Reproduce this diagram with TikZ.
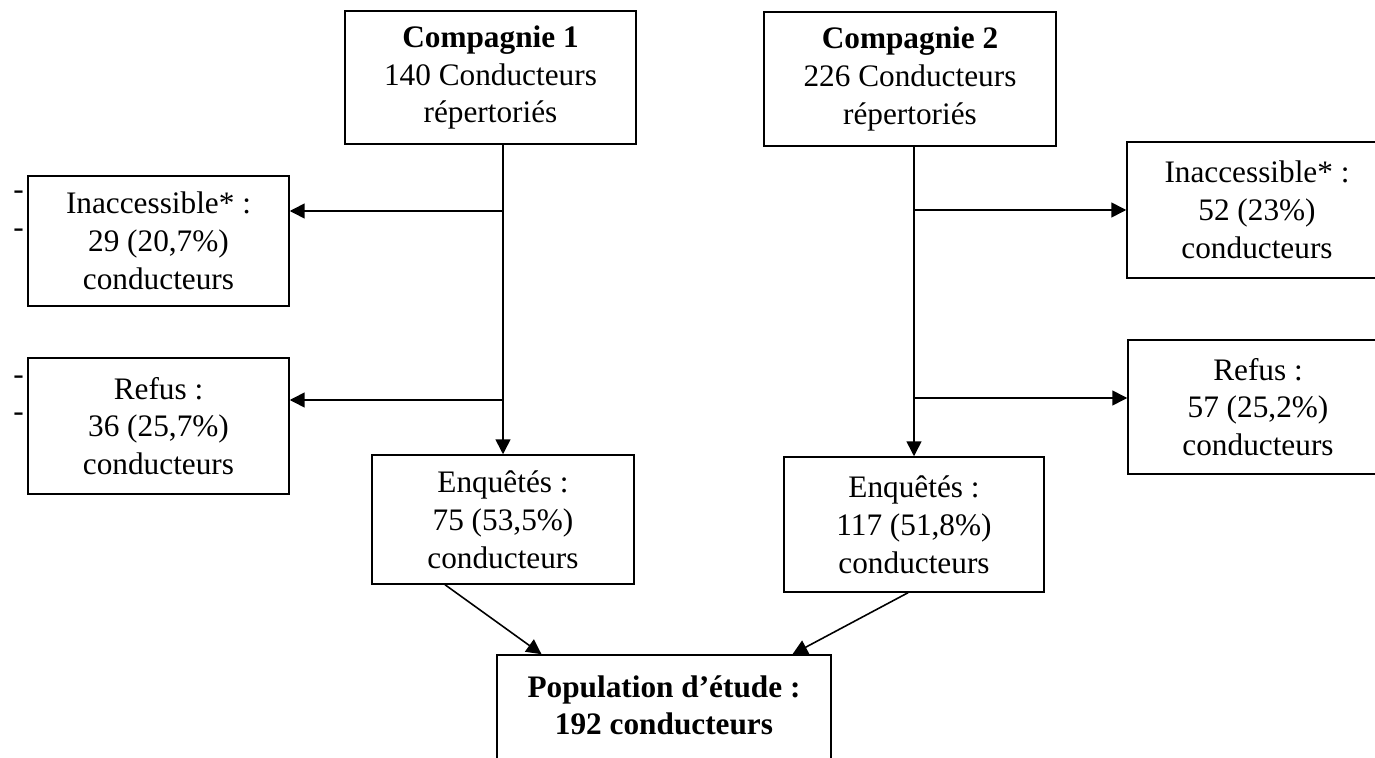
\documentclass[tikz,border=0pt]{standalone}
\usepackage{fontspec}
\setmainfont{Liberation Serif}
\usepackage{tikz}
\usetikzlibrary{arrows.meta, positioning, calc}

\begin{document}
\begin{tikzpicture}[
      every node/.style={font=\fontsize{17.8}{21.5}\selectfont},
      box/.style={rectangle, draw=black, line width=0.85pt, align=center, inner sep=2pt},
      flow/.style={draw=black, line width=0.9pt, -{Triangle[length=0.3cm, width=0.3cm]}},
    ]
    \useasboundingbox (0,0) rectangle (27.5,-15.16);
    \clip (0,0) rectangle (27.5,-15.16);

    % Top boxes: the two companies
    \node[box, minimum width=5.82cm, minimum height=2.66cm] (comp1) at (9.81,-1.55) {
      \textbf{Compagnie 1}\\ 140 Conducteurs\\ répertoriés
    };
    \node[box, minimum width=5.84cm, minimum height=2.68cm] (comp2) at (18.20,-1.58) {
      \textbf{Compagnie 2}\\ 226 Conducteurs\\ répertoriés
    };

    % Left branch: exclusions of company 1
    \node[box, minimum width=5.22cm, minimum height=2.6cm] (inacc1) at (3.17,-4.82) {
      Inaccessible* :\\ 29 (20,7\%)\\ conducteurs
    };
    \node[box, minimum width=5.22cm, minimum height=2.72cm] (refus1) at (3.17,-8.52) {
      Refus :\\ 36 (25,7\%)\\ conducteurs
    };
    \node (dash1) at (0.37,-3.9) {-};
    \node (dash2) at (0.37,-4.66) {-};
    \node (dash3) at (0.37,-7.6) {-};
    \node (dash4) at (0.37,-8.34) {-};

    % Right branch: exclusions of company 2
    \node[box, minimum width=5.2cm, minimum height=2.72cm] (inacc2) at (25.14,-4.20) {
      Inaccessible* :\\ 52 (23\%)\\ conducteurs
    };
    \node[box, minimum width=5.2cm, minimum height=2.68cm] (refus2) at (25.16,-8.14) {
      Refus :\\ 57 (25,2\%)\\ conducteurs
    };

    % Surveyed drivers
    \node[box, minimum width=5.24cm, minimum height=2.58cm] (enq1) at (10.06,-10.39) {
      Enquêtés :\\ 75 (53,5\%)\\ conducteurs
    };
    \node[box, minimum width=5.2cm, minimum height=2.7cm] (enq2) at (18.28,-10.49) {
      Enquêtés :\\ 117 (51,8\%)\\ conducteurs
    };

    % Study population
    \node[box, minimum width=6.68cm, minimum height=2.76cm] (pop) at (13.28,-14.48) {
      \textbf{Population d’étude :}\\ \textbf{192 conducteurs}\\ \mbox{}
    };

    % Vertical flows
    \draw[flow] (enq1.north |- comp1.south) -- (enq1.north);
    \draw[flow] (enq2.north |- comp2.south) -- (enq2.north);

    % Side arrows
    \coordinate (bl1) at (10.06,-4.22);
    \coordinate (bl2) at (10.06,-8.00);
    \coordinate (br1) at (18.28,-4.20);
    \coordinate (br2) at (18.28,-7.96);
    \draw[flow] (bl1) -- (bl1 -| inacc1.east);
    \draw[flow] (bl2) -- (bl2 -| refus1.east);
    \draw[flow] (br1) -- (br1 -| inacc2.west);
    \draw[flow] (br2) -- (br2 -| refus2.west);

    % Merge into the study population
    \draw[flow] ($(enq1.south west)!0.28!(enq1.south east)$) -- ($(pop.north west)!0.135!(pop.north east)$);
    \draw[flow] ($(enq2.south west)!0.477!(enq2.south east)$) -- ($(pop.north west)!0.883!(pop.north east)$);
  \end{tikzpicture}
\end{document}
